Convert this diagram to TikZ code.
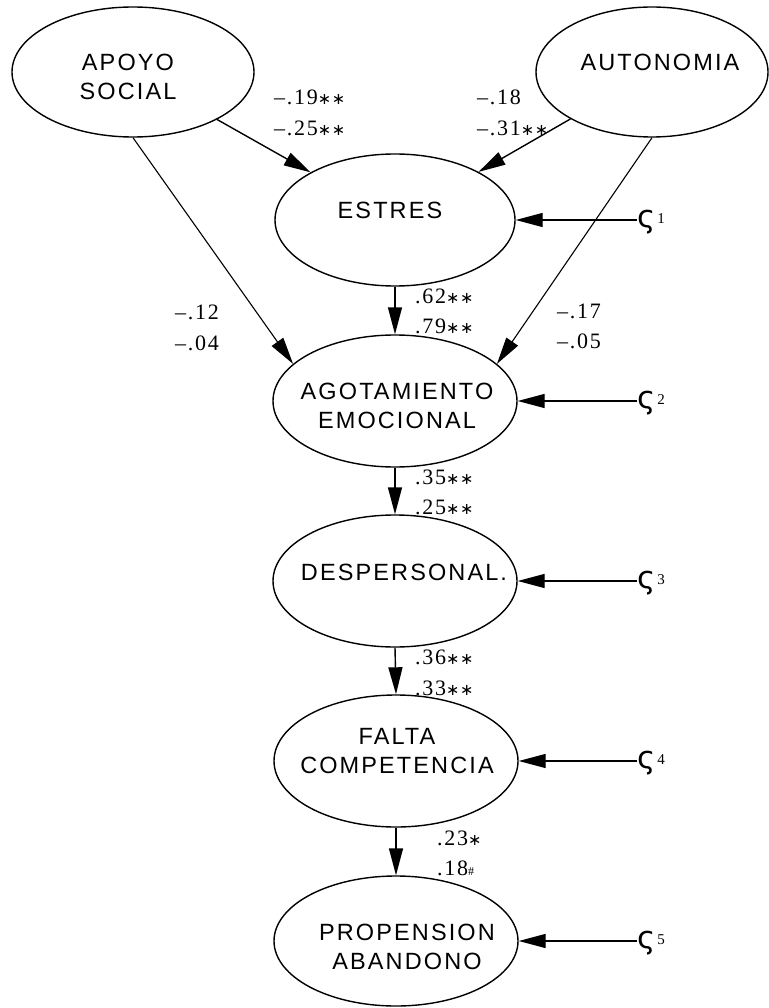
\documentclass[tikz,border=0pt]{standalone}
\usepackage{fontspec}
\setmainfont{Liberation Serif}
\newfontfamily\labfont[LetterSpace=9]{Liberation Sans}
\newfontfamily\numfont[LetterSpace=8]{Liberation Serif}
\newfontfamily\symfont{DejaVu Sans}
\usetikzlibrary{shapes.geometric,arrows.meta}
\newcommand{\st}{{\symfont\fontsize{16}{16}\selectfont ∗\hspace{0.5pt}}}
\newcommand{\mn}{–}
\newcommand{\zt}[1]{{\symfont\fontsize{31}{31}\selectfont ς}\hspace{2pt}\raisebox{4pt}{\fontsize{15}{15}\selectfont #1}}
\begin{document}
\begin{tikzpicture}[x=1pt,y=-1pt,
  lv/.style={draw, ellipse, line width=1.4pt, inner sep=0pt},
  lab/.style={font=\labfont\fontsize{23.5}{28.5}\selectfont, align=center, inner sep=0pt},
  num/.style={font=\numfont\fontsize{22}{22}\selectfont, anchor=west, inner sep=0pt},
  arr/.style={line width=1.4pt, -{Triangle[length=27pt,width=14pt]}},
  thinarr/.style={arr, line width=1.1pt},
  zeta/.style={anchor=west, inner sep=0pt}]
\useasboundingbox (0,0) rectangle (768,1008);

% latent variables
\node[lv, minimum width=242pt, minimum height=130pt] (apoyo) at (133,72) {};
\node[lv, minimum width=232pt, minimum height=130pt] (auto) at (652,72) {};
\node[lv, minimum width=240pt, minimum height=132pt] (estres) at (395,220) {};
\node[lv, minimum width=244pt, minimum height=132pt] (agot) at (395,401) {};
\node[lv, minimum width=244pt, minimum height=132pt] (desp) at (395,581) {};
\node[lv, minimum width=244pt, minimum height=132pt] (falta) at (396,761) {};
\node[lv, minimum width=244pt, minimum height=130pt] (prop) at (396,941) {};

% texts
\node[lab] (tapoyo) at (128,77) {APOYO\\SOCIAL};
\node[lab] (tauto) at (660,62) {AUTONOMIA};
\node[lab] (testres) at (390,210) {ESTRES};
\node[lab] (tagot) at (397,406) {AGOTAMIENTO\\EMOCIONAL};
\node[lab] (tdesp) at (404,572) {DESPERSONAL.};
\node[lab] (tfalta) at (397,751) {FALTA\hspace{18pt}\\COMPETENCIA};
\node[lab] (tprop) at (407,947) {PROPENSION\\ABANDONO};

% paths
\draw[arr] (apoyo) -- (estres);
\draw[arr] (auto) -- (estres);
\draw[thinarr] (apoyo.south) -- (agot.160.7);
\draw[thinarr] (auto.south) -- (agot.20.4);
\draw[arr] (estres.south) -- (agot.north);
\draw[arr] (agot.south) -- (desp.north);
\draw[arr] (desp.south) -- (falta.north);
\draw[arr] (falta.south) -- (prop.north);

% disturbances
\node[zeta] (z1) at (637,222) {\zt{1}};
\node[zeta] (z2) at (637,403) {\zt{2}};
\node[zeta] (z3) at (637,583) {\zt{3}};
\node[zeta] (z4) at (637,763) {\zt{4}};
\node[zeta] (z5) at (637,943) {\zt{5}};
\draw[arr] (estres.east -| z1.west) -- (estres.east);
\draw[arr] (agot.east -| z2.west) -- (agot.east);
\draw[arr] (desp.east -| z3.west) -- (desp.east);
\draw[arr] (falta.east -| z4.west) -- (falta.east);
\draw[arr] (prop.east -| z5.west) -- (prop.east);

% coefficients
\node[num] (c1a) at (274,97) {\mn.19\st\st};
\node[num] (c1b) at (274,128) {\mn.25\st\st};
\node[num] (c2a) at (477,97) {\mn.18};
\node[num] (c2b) at (477,128) {\mn.31\st\st};
\node[num] (c3a) at (175,312) {\mn.12};
\node[num] (c3b) at (175,343) {\mn.04};
\node[num] (c4a) at (557,311) {\mn.17};
\node[num] (c4b) at (557,341) {\mn.05};
\node[num] (c5a) at (415,296) {.62\st\st};
\node[num] (c5b) at (415,326) {.79\st\st};
\node[num] (c6a) at (415,477) {.35\st\st};
\node[num] (c6b) at (415,507) {.25\st\st};
\node[num] (c7a) at (415,657) {.36\st\st};
\node[num] (c7b) at (415,688) {.33\st\st};
\node[num] (c8a) at (437,838) {.23\st};
\node[num] (c8b) at (437,868) {.18{\fontsize{12}{12}\selectfont\#}};
\end{tikzpicture}
\end{document}
